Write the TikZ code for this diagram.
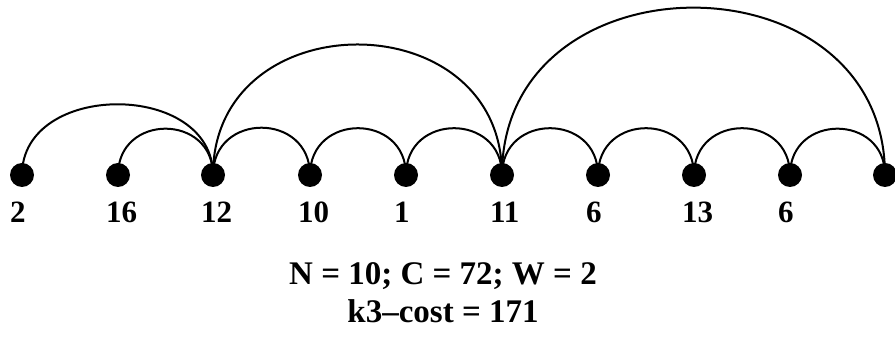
\documentclass[tikz,border=0pt]{standalone}
\usepackage{fontspec}
\setmainfont{Liberation Serif}
\begin{document}
\begin{tikzpicture}[x=1pt,y=1pt,
  dot/.style={circle,fill=black,inner sep=0pt,minimum size=24pt},
  lbl/.style={anchor=base west,inner sep=0pt,font=\fontsize{31}{31}\selectfont\bfseries},
  info/.style={anchor=base,inner sep=0pt,font=\fontsize{33}{33}\selectfont\bfseries},
  arcline/.style={line width=2pt,out=90,in=90}]
\useasboundingbox (0,0) rectangle (895,337);
% nodes
\foreach \n/\x/\t in {a/22/2,b/118/16,c/213/12,d/310/10,e/406/1,f/502/11,g/598/6,h/694/13,i/790/6,j/885/{}}{
  \coordinate (p\n) at (\x,162);
  \node[lbl] (l\n) at (\x-12,114) {\t};
}
% arcs
\draw[arcline,looseness=1.266] (pa) to (pc);
\draw[arcline,looseness=1.667] (pb) to (pc);
\draw[arcline,looseness=1.667] (pc) to (pd);
\draw[arcline,looseness=1.667] (pd) to (pe);
\draw[arcline,looseness=1.667] (pe) to (pf);
\draw[arcline,looseness=1.544] (pc) to (pf);
\draw[arcline,looseness=1.667] (pf) to (pg);
\draw[arcline,looseness=1.667] (pg) to (ph);
\draw[arcline,looseness=1.667] (ph) to (pi);
\draw[arcline,looseness=1.667] (pi) to (pj);
\draw[arcline,looseness=1.494] (pf) to (pj);
\foreach \n in {a,b,c,d,e,f,g,h,i,j}{
  \node[dot] (d\n) at (p\n) {};
}
\node[info] (t1) at (443,52) {N = 10; C = 72; W = 2};
\node[info] (t2) at (443,14) {k3--cost = 171};
\end{tikzpicture}
\end{document}
